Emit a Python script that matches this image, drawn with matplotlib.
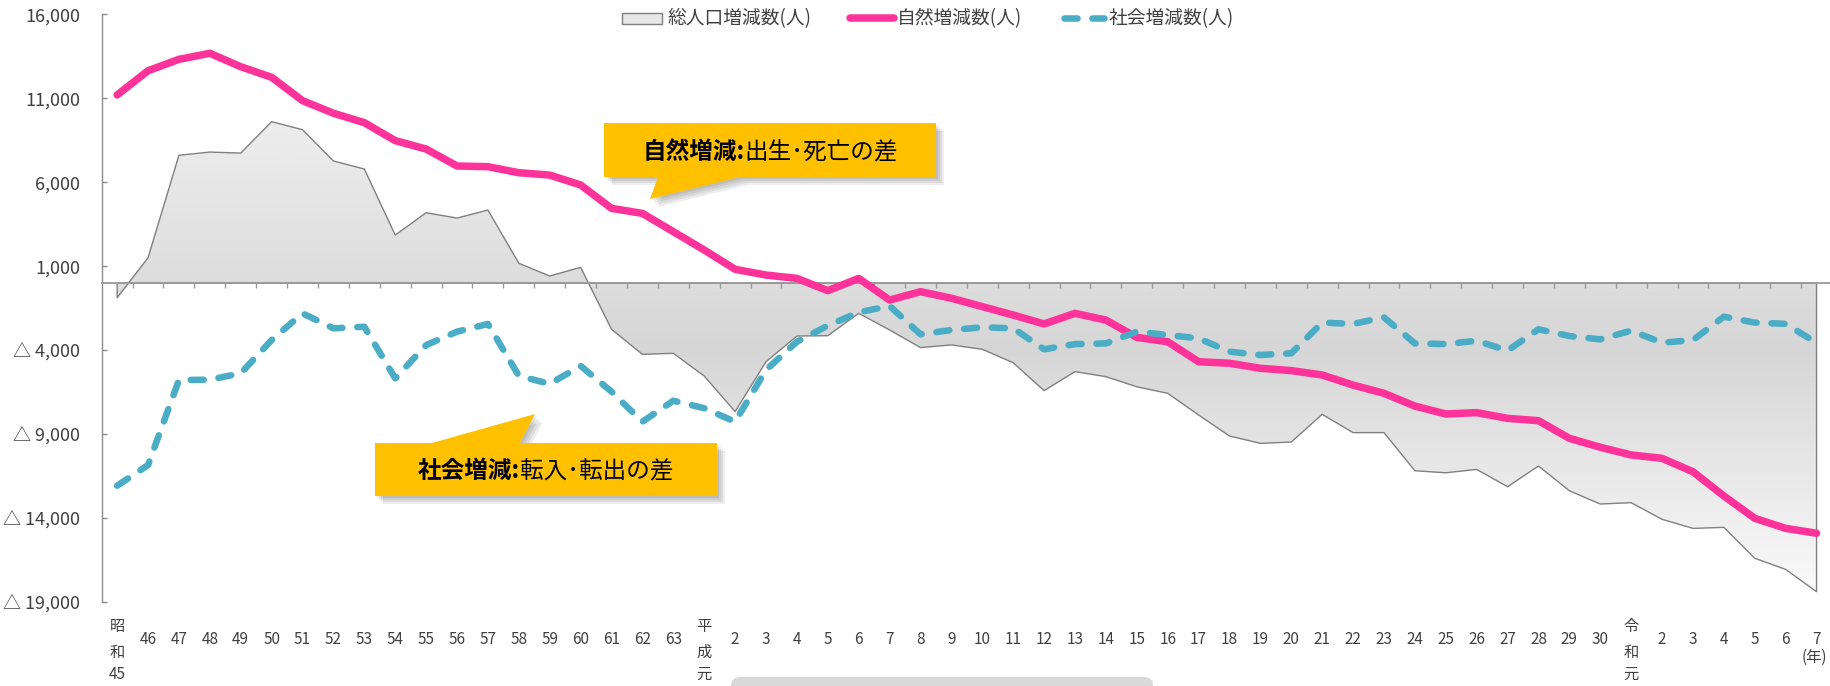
import numpy as np
import matplotlib
matplotlib.use('Agg')
import matplotlib.pyplot as plt
import matplotlib.transforms as mtransforms
from matplotlib.colors import LinearSegmentedColormap
from matplotlib.patches import Polygon, Rectangle, FancyBboxPatch
from matplotlib.lines import Line2D

plt.rcParams['font.family'] = ['Noto Sans CJK JP', 'DejaVu Sans']

# ---------------- data ----------------
categories = (['昭\n和\n45'] + [str(v) for v in range(46, 64)] + ['平\n成\n元']
              + [str(v) for v in range(2, 31)] + ['令\n和\n元'] + [str(v) for v in range(2, 8)])

total_change = [-870, 1510, 7610, 7800, 7740, 9610, 9130, 7270, 6790, 2860, 4190, 3870, 4350, 1180,
                420, 940, -2750, -4240, -4180, -5530, -7650, -4680, -3150, -3130, -1800, -2790, -3840, -3680,
                -3940, -4740, -6400, -5270, -5570, -6170, -6560, -7850, -9100, -9540, -9460, -7810, -8900, -8900,
                -11170, -11290, -11090, -12120, -10890, -12360, -13150, -13070, -14060, -14600, -14540, -16380, -17040, -18370]

natural_change = [11200, 12640, 13320, 13680, 12880, 12250, 10860, 10110, 9550, 8480, 7980, 6970, 6930, 6570,
                  6430, 5840, 4450, 4150, 3060, 1970, 820, 480, 280, -450, 280, -1010, -510, -900,
                  -1400, -1900, -2430, -1800, -2200, -3230, -3490, -4680, -4770, -5070, -5210, -5470, -6070, -6560,
                  -7320, -7790, -7710, -8050, -8190, -9240, -9770, -10230, -10430, -11230, -12670, -14000, -14600, -14890]

social_change = [-12060, -10830, -5770, -5750, -5370, -3390, -1800, -2690, -2600, -5670, -3690, -2890, -2430, -5520,
                 -6000, -4930, -6460, -8250, -7000, -7450, -8250, -5170, -3490, -2530, -1740, -1360, -3050, -2790,
                 -2630, -2690, -3940, -3630, -3590, -2890, -3090, -3290, -4080, -4280, -4180, -2350, -2430, -2040,
                 -3590, -3630, -3430, -4020, -2750, -3150, -3350, -2830, -3550, -3390, -2000, -2350, -2430, -3550]

y_ticks = [16000, 11000, 6000, 1000, -4000, -9000, -14000, -19000]
y_tick_labels = ['16,000', '11,000', '6,000', '1,000', '△ 4,000', '△ 9,000', '△ 14,000', '△ 19,000']

legend_labels = ['総人口増減数(人)', '自然増減数(人)', '社会増減数(人)']
callout_natural = ('自然増減:', '出生･死亡の差')
callout_social = ('社会増減:', '転入･転出の差')
x_unit = '(年)'

# ---------------- figure ----------------
W, H = 1831, 686
fig = plt.figure(figsize=(W / 100, H / 100), dpi=100)
fig.patch.set_facecolor('white')
ax = fig.add_axes([101.7 / W, 1 - 602.3 / H, 1730.3 / W, 588.0 / H])
ax.patch.set_facecolor('none')

x = np.arange(len(categories))
PINK = '#FF3399'
TEAL = '#4BACC6'
AXC = '#9a9a9a'
TXT = '#404040'
TEAL_LW = 4.7
TEAL_DASH = [2.0, 2.27]

# gradient filled area (total change)
grad = np.linspace(0, 1, 600).reshape(-1, 1)
cmap = LinearSegmentedColormap.from_list(
    'g', [(0.0, '#fbfbfb'), (15 / 35, '#d6d6d6'), (1.0, '#f8f8f8')])
im = ax.imshow(grad, extent=[-0.5, len(categories) - 0.5, y_ticks[-1], y_ticks[0]],
               origin='lower', aspect='auto', cmap=cmap, vmin=0, vmax=1,
               interpolation='bilinear', zorder=1)
area = ax.fill_between(x, total_change, 0, facecolor='none', edgecolor='#808080',
                       linewidth=1.0, zorder=2)
im.set_clip_path(area.get_paths()[0], transform=ax.transData)

# lines
ax.plot(x, natural_change, color=PINK, lw=5.4, solid_capstyle='round',
        solid_joinstyle='round', zorder=4)
teal_line, = ax.plot(x, social_change, color=TEAL, lw=TEAL_LW, dash_capstyle='round',
                     dash_joinstyle='round', zorder=5)
teal_line.set_dashes(TEAL_DASH)

ax.set_xlim(-0.5, len(categories) - 0.5)
ax.set_ylim(y_ticks[-1], y_ticks[0])

# axes styling
for s in ['top', 'right']:
    ax.spines[s].set_visible(False)
ax.spines['bottom'].set_position(('data', 0))
ax.spines['bottom'].set_color(AXC)
ax.spines['bottom'].set_linewidth(1.3)
ax.spines['left'].set_color('#8c8c8c')
ax.spines['left'].set_linewidth(1.0)

ax.set_xticks(np.arange(0.5, len(categories) - 1, 1.0))
ax.tick_params(axis='x', direction='out', length=3.6, width=1.0, color=AXC,
               labelbottom=False)
ax.set_yticks(y_ticks)
ax.set_yticklabels(y_tick_labels)
ax.tick_params(axis='y', direction='in', length=3.6, width=1.0, color='#8c8c8c',
               pad=15.6, labelsize=13, labelcolor=TXT)
for t in ax.get_yticklabels():
    t.set_fontfamily(['Liberation Sans Narrow', 'Noto Sans CJK JP', 'DejaVu Sans'])

# x category labels
line_offsets = [24, 50, 72]
for i, lab in enumerate(categories):
    parts = lab.split('\n')
    offs = [37.7] if len(parts) == 1 else line_offsets
    for p, off in zip(parts, offs):
        tr = mtransforms.offset_copy(ax.get_xaxis_transform(), fig=fig, x=0, y=-off, units='dots')
        ax.text(x[i], 0, p, transform=tr, ha='center', va='center', fontsize=11,
                color=TXT, clip_on=False)
tr = mtransforms.offset_copy(ax.get_xaxis_transform(), fig=fig, x=-2, y=-55, units='dots')
ax.text(x[-1], 0, x_unit, transform=tr, ha='center', va='center', fontsize=11,
        color=TXT, clip_on=False)

# ---------------- figure-level decorations (pixel coords, y down) ----------------
ID = mtransforms.IdentityTransform()


def P(px, py):
    return (px, H - py)


# legend
fig.add_artist(Rectangle(P(622, 24), 40, 11, transform=ID, facecolor='#e8e8e8',
                         edgecolor='#808080', linewidth=1.0, zorder=20))
fig.text(*P(667, 19), legend_labels[0], transform=ID, ha='left', va='center',
         fontsize=13.5, color=TXT, zorder=20)
fig.add_artist(Line2D([850, 894], [H - 17.5, H - 17.5], transform=ID, color=PINK, lw=5.4,
                      solid_capstyle='round', zorder=20))
fig.text(*P(897, 19), legend_labels[1], transform=ID, ha='left', va='center',
         fontsize=13.5, color=TXT, zorder=20)
lg = Line2D([1063.5, 1104], [H - 17.5, H - 17.5], transform=ID, color=TEAL, lw=TEAL_LW,
            dash_capstyle='round', zorder=20)
lg.set_dashes(TEAL_DASH)
fig.add_artist(lg)
fig.text(*P(1109, 19), legend_labels[2], transform=ID, ha='left', va='center',
         fontsize=13.5, color=TXT, zorder=20)


def callout(pts, text_pair, cx, cy, size=17):
    for d in [2, 4, 6, 8]:
        sh = [P(px + d, py + d) for px, py in pts]
        fig.add_artist(Polygon(sh, closed=True, transform=ID, facecolor='black',
                               edgecolor='none', alpha=0.07, zorder=28))
    fig.add_artist(Polygon([P(px, py) for px, py in pts], closed=True, transform=ID,
                           facecolor='#FFC000', edgecolor='none', zorder=30))
    r = fig.canvas.get_renderer()
    t1 = fig.text(0, 0, text_pair[0], transform=ID, fontsize=size, fontweight='bold',
                  ha='left', va='baseline', color='black', zorder=31)
    t2 = fig.text(0, 0, text_pair[1], transform=ID, fontsize=size,
                  ha='left', va='baseline', color='black', zorder=31)
    w1 = t1.get_window_extent(r).width
    w2 = t2.get_window_extent(r).width
    x0 = cx - (w1 + w2) / 2
    base = H - cy - 0.36 * size / 72 * 100
    t1.set_position((x0, base))
    t2.set_position((x0 + w1, base))


callout([(604, 123), (936, 123), (936, 177), (740, 177), (650, 199), (658, 177), (604, 177)],
        callout_natural, 770, 150)
callout([(375, 443), (432, 443), (535, 414), (520, 443), (717, 443), (717, 496), (375, 496)],
        callout_social, 546, 469.5)

# grey rounded bar at bottom edge
fig.add_artist(FancyBboxPatch(P(731, 700), 422, 23, boxstyle='round,pad=0,rounding_size=9',
                              transform=ID, facecolor='#d9d9d9', edgecolor='none', zorder=20))

fig.savefig('out.png', dpi=100)
